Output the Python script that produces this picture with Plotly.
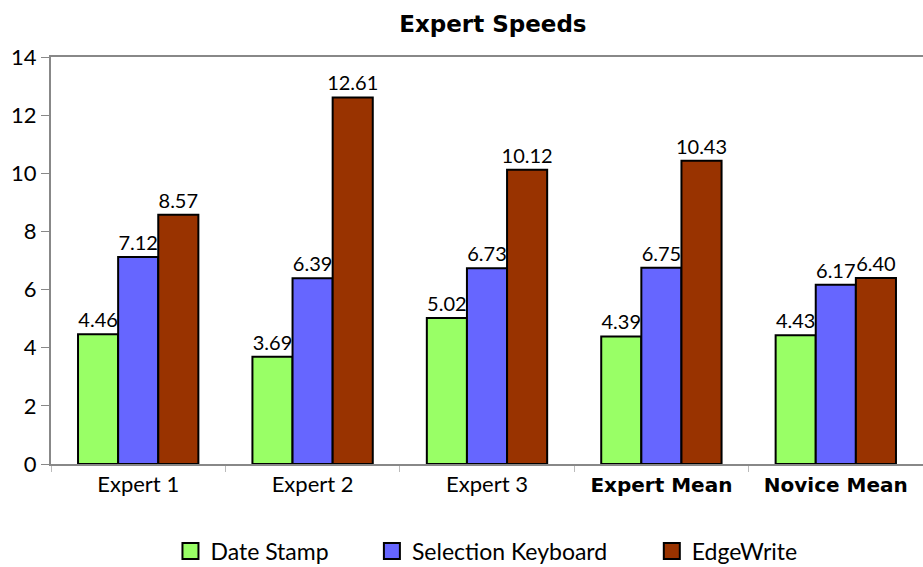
import plotly.graph_objects as go

BOLD = '<span style="font-family:\'DejaVu Sans\';font-weight:bold;font-size:20px">{}</span>'
categories = ["Expert 1", "Expert 2", "Expert 3", BOLD.format("Expert Mean"), BOLD.format("Novice Mean")]
date_stamp = [4.46, 3.69, 5.02, 4.39, 4.43]
selection_keyboard = [7.12, 6.39, 6.73, 6.75, 6.17]
edgewrite = [8.57, 12.61, 10.12, 10.43, 6.40]

series = [
    ("Date Stamp", date_stamp, "#99ff66"),
    ("Selection Keyboard", selection_keyboard, "#6666ff"),
    ("EdgeWrite", edgewrite, "#993300"),
]
legend_x = [0.137, 0.368, 0.689]

FONT = "Lato"
fig = go.Figure()
for i, (name, vals, color) in enumerate(series):
    fig.add_trace(go.Bar(
        name=name, x=categories, y=vals, showlegend=False,
        marker=dict(color=color, line=dict(color="black", width=2)),
        text=[f"{v:.2f}" for v in vals], textposition="outside",
        textfont=dict(size=20, color="black", family=FONT),
        constraintext="none", cliponaxis=False,
    ))
    lg = "legend" if i == 0 else f"legend{i+1}"
    fig.add_trace(go.Scatter(
        name=name, x=[None], y=[None], mode="markers",
        marker=dict(symbol="square", size=21, color=color, line=dict(color="black", width=2)),
        legend=lg, showlegend=True,
    ))

legend_common = dict(orientation="h", xanchor="left", y=-0.214, yanchor="middle",
                     font=dict(size=23, family=FONT, color="black"), itemwidth=30,
                     bgcolor="rgba(0,0,0,0)")
fig.update_layout(
    width=923, height=567,
    margin=dict(l=51, r=0, t=57, b=103, autoexpand=False),
    barmode="group", bargap=0.31, bargroupgap=0,
    plot_bgcolor="white", paper_bgcolor="white",
    font=dict(family=FONT, color="black"),
    title=dict(text="<b>Expert Speeds</b>", x=0.534, xanchor="center", y=0.958, yanchor="middle",
               font=dict(size=23, family="DejaVu Sans", color="black")),
    legend=dict(x=legend_x[0], **legend_common),
    legend2=dict(x=legend_x[1], **legend_common),
    legend3=dict(x=legend_x[2], **legend_common),
)
fig.update_xaxes(showline=True, linecolor="#888888", linewidth=2, mirror=True,
                 ticks="outside", tickcolor="#bbbbbb", ticklen=6, tickson="boundaries",
                 automargin=False,
                 tickfont=dict(size=22, family=FONT, color="black"))
fig.update_yaxes(range=[0, 14], dtick=2, showgrid=False, zeroline=False,
                 showline=True, linecolor="#888888", linewidth=2,
                 ticks="outside", tickcolor="#888888", ticklen=8,
                 tickformat="d", automargin=False,
                 tickfont=dict(size=22, family=FONT, color="black"))
fig.write_html("out.html", config={"displayModeBar": False},
               post_script="document.body.style.margin='0';document.body.style.overflow='hidden';")
